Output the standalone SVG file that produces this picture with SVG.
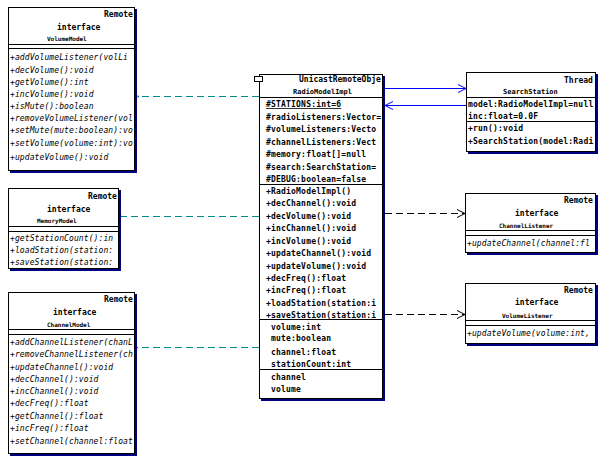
<svg xmlns="http://www.w3.org/2000/svg" width="604" height="462" viewBox="0 0 604 462">
<style>
.box{fill:#fff;stroke:#000;stroke-width:1}
.sh{fill:#000080}
.sep{stroke:#000;stroke-width:1}
text{font-family:"DejaVu Sans Mono","Liberation Mono",monospace;fill:#000}
.st{font-size:8px;font-weight:bold}
.nm{font-size:6px;font-weight:bold}
.im{font-size:8px;font-style:italic;letter-spacing:0.1px}
.cm{font-size:8px;font-weight:bold;letter-spacing:0.2px}
.dep{stroke:#000;stroke-width:1;stroke-dasharray:7,4;fill:none}
.real{stroke:#008b8b;stroke-width:1;stroke-dasharray:7,4;fill:none}
.blue{stroke:#0000ff;stroke-width:1;fill:none}
</style>
<defs>
<marker id="tri" markerWidth="14" markerHeight="10" refX="1" refY="5" orient="auto" markerUnits="userSpaceOnUse"><path d="M13,1 L1,5 L13,9 Z" fill="#fff" stroke="#008b8b"/></marker>
<marker id="open" markerWidth="10" markerHeight="10" refX="9" refY="5" orient="auto" markerUnits="userSpaceOnUse"><path d="M1,1 L9,5 L1,9" fill="none" stroke="#000"/></marker>
<marker id="openb" markerWidth="10" markerHeight="10" refX="9" refY="5" orient="auto" markerUnits="userSpaceOnUse"><path d="M1,1 L9,5 L1,9" fill="none" stroke="#0000ff"/></marker>
</defs>

<g id="connectors">
<line class="real" x1="259" y1="96.5" x2="139" y2="96.5" marker-end="url(#tri)"/>
<line class="real" x1="259" y1="216.5" x2="122" y2="216.5" marker-end="url(#tri)"/>
<line class="real" x1="259" y1="347.5" x2="138" y2="347.5" marker-end="url(#tri)"/>
<line class="dep" x1="385" y1="213.5" x2="465" y2="213.5" marker-end="url(#open)"/>
<line class="dep" x1="385" y1="314.5" x2="465" y2="314.5" marker-end="url(#open)"/>
<line class="blue" x1="385" y1="88.5" x2="466" y2="88.5" marker-end="url(#openb)"/>
<line class="blue" x1="466" y1="105.5" x2="385" y2="105.5" marker-end="url(#openb)"/>
</g>

<g id="VolumeModel">
<rect class="sh" x="10" y="9" width="127" height="164"/>
<rect class="box" x="8.5" y="7.5" width="126" height="163"/>
<line class="sep" x1="8" y1="44.5" x2="135" y2="44.5"/>
<line class="sep" x1="8" y1="48.5" x2="135" y2="48.5"/>
<text class="st" x="104" y="17">Remote</text>
<text class="st" x="57" y="30">interface</text>
<text class="nm" x="47" y="41">VolumeModel</text>
<g class="im">
<text x="10" y="60">+addVolumeListener(volLi</text>
<text x="10" y="73">+decVolume():void</text>
<text x="10" y="85">+getVolume():int</text>
<text x="10" y="97">+incVolume():void</text>
<text x="10" y="109">+isMute():boolean</text>
<text x="10" y="121">+removeVolumeListener(vol</text>
<text x="10" y="133">+setMute(mute:boolean):vo</text>
<text x="10" y="146">+setVolume(volume:int):vo</text>
<text x="10" y="160">+updateVolume():void</text>
</g>
</g>

<g id="MemoryModel">
<rect class="sh" x="10" y="190" width="111" height="81"/>
<rect class="box" x="8.5" y="188.5" width="110" height="80"/>
<line class="sep" x1="8" y1="226.5" x2="119" y2="226.5"/>
<line class="sep" x1="8" y1="231.5" x2="119" y2="231.5"/>
<text class="st" x="88" y="199">Remote</text>
<text class="st" x="47" y="212">interface</text>
<text class="nm" x="37" y="223">MemoryModel</text>
<g class="im">
<text x="10" y="241">+getStationCount():in</text>
<text x="10" y="253">+loadStation(station:</text>
<text x="10" y="265">+saveStation(station:</text>
</g>
</g>

<g id="ChannelModel">
<rect class="sh" x="10" y="294" width="127" height="162"/>
<rect class="box" x="8.5" y="292.5" width="126" height="161"/>
<line class="sep" x1="8" y1="329.5" x2="135" y2="329.5"/>
<line class="sep" x1="8" y1="334.5" x2="135" y2="334.5"/>
<text class="st" x="104" y="302">Remote</text>
<text class="st" x="53" y="315">interface</text>
<text class="nm" x="47" y="327">ChannelModel</text>
<g class="im">
<text x="10" y="345">+addChannelListener(chanL</text>
<text x="10" y="357">+removeChannelListener(ch</text>
<text x="10" y="370">+updateChannel():void</text>
<text x="10" y="382">+decChannel():void</text>
<text x="10" y="394">+incChannel():void</text>
<text x="10" y="406">+decFreq():float</text>
<text x="10" y="419">+getChannel():float</text>
<text x="10" y="431">+incFreq():float</text>
<text x="10" y="444">+setChannel(channel:float</text>
</g>
</g>

<g id="RadioModelImpl">
<rect class="sh" x="261" y="76" width="124" height="325"/>
<rect class="box" x="259.5" y="74.5" width="123" height="324"/>
<rect class="box" x="254.5" y="76.5" width="8" height="5"/>
<line class="sep" x1="259" y1="97.5" x2="383" y2="97.5"/>
<line class="sep" x1="259" y1="184.5" x2="383" y2="184.5"/>
<line class="sep" x1="259" y1="319.5" x2="383" y2="319.5"/>
<line class="sep" x1="259" y1="369.5" x2="383" y2="369.5"/>
<text class="st" x="299" y="82">UnicastRemoteObje</text>
<text class="nm" x="293" y="94" style="font-size:7px">RadioModelImpl</text>
<g class="cm">
<text x="266" y="107" text-decoration="underline">#STATIONS:int=6</text>
<text x="266" y="120">#radioListeners:Vector=</text>
<text x="266" y="132">#volumeListeners:Vecto</text>
<text x="266" y="145">#channelListeners:Vect</text>
<text x="266" y="157">#memory:float[]=null</text>
<text x="266" y="170">#search:SearchStation=</text>
<text x="266" y="182">#DEBUG:boolean=false</text>
<text x="266" y="194">+RadioModelImpl()</text>
<text x="266" y="206">+decChannel():void</text>
<text x="266" y="219">+decVolume():void</text>
<text x="266" y="231">+incChannel():void</text>
<text x="266" y="244">+incVolume():void</text>
<text x="266" y="256">+updateChannel():void</text>
<text x="266" y="269">+updateVolume():void</text>
<text x="266" y="281">+decFreq():float</text>
<text x="266" y="293">+incFreq():float</text>
<text x="266" y="306">+loadStation(station:i</text>
<text x="266" y="318">+saveStation(station:i</text>
<text x="271" y="330">volume:int</text>
<text x="271" y="341">mute:boolean</text>
<text x="271" y="355">channel:float</text>
<text x="271" y="367">stationCount:int</text>
<text x="271" y="380">channel</text>
<text x="271" y="392">volume</text>
</g>
</g>

<g id="SearchStation">
<rect class="sh" x="468" y="74" width="130" height="80"/>
<rect class="box" x="466.5" y="72.5" width="129" height="79"/>
<line class="sep" x1="466" y1="97.5" x2="596" y2="97.5"/>
<line class="sep" x1="466" y1="121.5" x2="596" y2="121.5"/>
<text class="st" x="564" y="83">Thread</text>
<text class="nm" x="503" y="94" style="font-size:7px">SearchStation</text>
<g class="cm">
<text x="468" y="107">model:RadioModelImpl=null</text>
<text x="468" y="119">inc:float=0.0F</text>
<text x="468" y="131">+run():void</text>
<text x="468" y="144">+SearchStation(model:Radi</text>
</g>
</g>

<g id="ChannelListener">
<rect class="sh" x="467" y="195" width="131" height="60"/>
<rect class="box" x="465.5" y="193.5" width="130" height="59"/>
<line class="sep" x1="465" y1="230.5" x2="596" y2="230.5"/>
<line class="sep" x1="465" y1="235.5" x2="596" y2="235.5"/>
<text class="st" x="564" y="203">Remote</text>
<text class="st" x="515" y="216">interface</text>
<text class="nm" x="499" y="228">ChannelListener</text>
<text class="im" x="467" y="246">+updateChannel(channel:fl</text>
</g>

<g id="VolumeListener">
<rect class="sh" x="467" y="285" width="131" height="61"/>
<rect class="box" x="465.5" y="283.5" width="130" height="60"/>
<line class="sep" x1="465" y1="320.5" x2="596" y2="320.5"/>
<line class="sep" x1="465" y1="325.5" x2="596" y2="325.5"/>
<text class="st" x="564" y="293">Remote</text>
<text class="st" x="515" y="305">interface</text>
<text class="nm" x="502" y="318">VolumeListener</text>
<text class="im" x="467" y="336">+updateVolume(volume:int,</text>
</g>
</svg>
